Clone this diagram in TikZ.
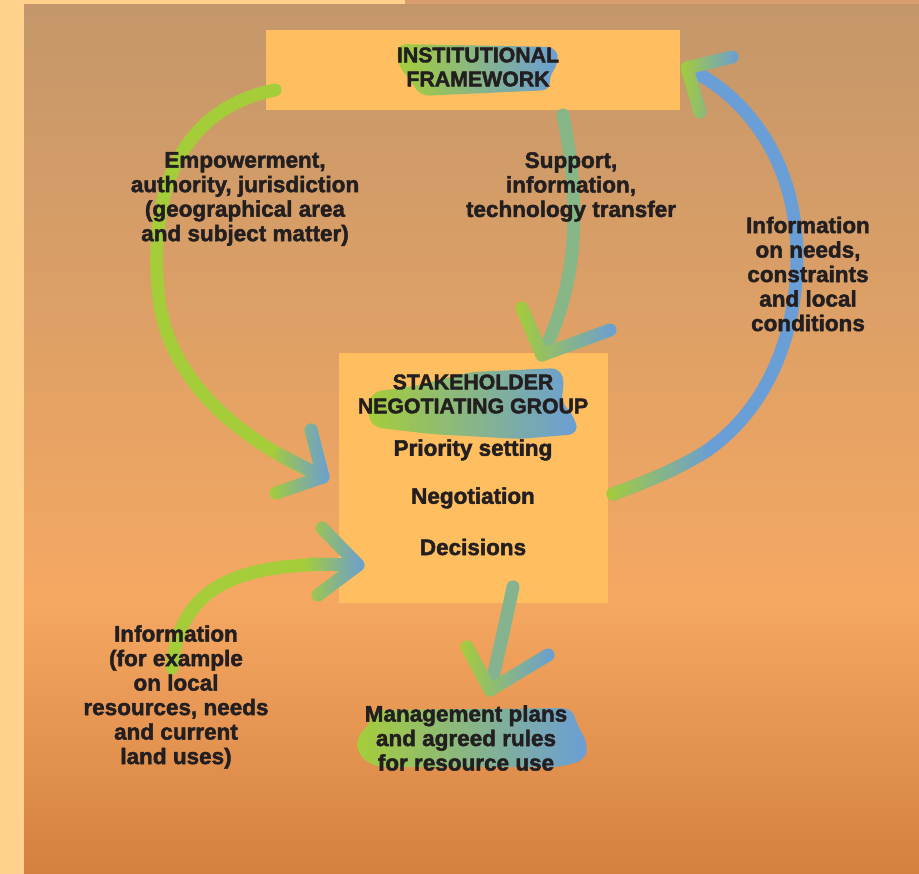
\documentclass[tikz,border=0pt]{standalone}
\usepackage{fontspec}
\setmainfont{Liberation Sans}[BoldFeatures={FakeBold=2}]
\usetikzlibrary{fadings}
\definecolor{paleyellow}{RGB}{255,209,140}
\definecolor{topstrip}{RGB}{217,157,110}
\definecolor{bgtop}{RGB}{196,151,106}
\definecolor{bgmid}{RGB}{245,168,98}
\definecolor{bgbot}{RGB}{212,128,63}
\definecolor{boxfill}{RGB}{255,190,96}
\definecolor{brgreen}{RGB}{165,205,57}
\definecolor{brblue}{RGB}{106,158,214}
\definecolor{inkdark}{RGB}{35,31,32}
\tikzfading[name=bluein, left color=transparent!100, right color=transparent!0]
\tikzfading[name=greenout, left color=transparent!0, right color=transparent!100]

\begin{document}
\begin{tikzpicture}[x=1pt, y=-1pt,
  every node/.style={font=\fontsize{22.5}{24.5}\selectfont\bfseries, text=inkdark, align=center},
  titletext/.style={font=\fontsize{21.3}{24}\selectfont\bfseries},
  brush/.style={line width=13pt, line cap=round, line join=round},
  panel/.style={fill=boxfill, draw=none, inner sep=0pt},
  smear/.style={left color=brgreen, right color=brblue, rounded corners=9pt}]
  % Background page
  \fill[paleyellow] (0,0) rectangle (919,874);
  \fill[topstrip] (405,0) rectangle (919,5);
  \shade[top color=bgtop, bottom color=bgmid] (24,5) rectangle (919,600);
  \shade[top color=bgmid, bottom color=bgbot] (24,600) rectangle (919,874);

  % Boxes
  \node[panel, minimum width=414pt, minimum height=80pt] (inst) at (473,70) {};
  \node[panel, minimum width=269pt, minimum height=250pt] (sng) at (473.5,478) {};

  % Brush smears behind titles
  \shade[smear] (397,44) -- (556,47) -- (559,63) -- (548,78) -- (551,90)
    -- (420,96) -- (412,82) -- (398,66) -- cycle;
  \shade[smear] (372,392) -- (420,385) -- (470,372) -- (560,368) -- (565,385)
    -- (560,400) -- (575,418) -- (578,434) -- (520,439) -- (430,434)
    -- (372,427) -- (367,410) -- cycle;
  \shade[smear] (372,710) -- (572,708) -- (576,722) -- (588,745) -- (585,760)
    -- (560,767) -- (375,767) -- (358,755) -- (357,735) -- (370,725) -- cycle;

  % Empowerment arc (left)
  \coordinate (empA) at (275,90);
  \coordinate (empB) at (158,290);
  \coordinate (empT) at (323,477);
  \draw[brush, brgreen] (empA) .. controls (175,110) and (150,200) .. (empB)
    .. controls (165,380) and (240,440) .. (empT);
  \draw[brush, brgreen] (311,430) -- (empT) -- (276,493) (280,455) -- (empT);
  \draw[brush, brblue, path fading=bluein] (311,430) -- (empT) -- (276,493) (280,455) -- (empT);

  % Support arrow (down into the group)
  \coordinate (supA) at (563,115);
  \coordinate (supT) at (542,355);
  \draw[brush, brgreen!50!brblue] (supA) .. controls (580,200) and (580,280) .. (supT);
  \draw[brush, brgreen] (522,308) -- (supT) -- (610,330);
  \draw[brush, brblue, path fading=bluein] (522,308) -- (supT) -- (610,330);

  % Needs arc (right, back up)
  \coordinate (needA) at (613,494);
  \coordinate (needB) at (705,452);
  \coordinate (needC) at (797,257);
  \coordinate (needT) at (687,68);
  \draw[brush, brblue] (needA) .. controls (645,482) and (672,472) .. (needB)
    .. controls (770,408) and (797,330) .. (needC)
    .. controls (797,160) and (745,95) .. (needT);
  \draw[brush, brgreen, path fading=greenout] (needA) .. controls (645,482) and (672,472) .. (needB);
  \draw[brush, brblue] (732,57) -- (needT) -- (700,112);
  \draw[brush, brgreen, path fading=greenout] (732,57) -- (needT) -- (700,112);

  % Local information arrow (bottom left)
  \coordinate (infA) at (172,668);
  \coordinate (infT) at (358,565);
  \draw[brush, brgreen] (infA) .. controls (180,590) and (230,560) .. (infT);
  \draw[brush, brgreen] (322,528) -- (infT) -- (318,595) (310,564) -- (infT);
  \draw[brush, brblue, path fading=bluein] (322,528) -- (infT) -- (318,595) (310,564) -- (infT);

  % Output arrow (down to plans)
  \coordinate (mgmA) at (513,587);
  \coordinate (mgmT) at (490,690);
  \draw[brush, brgreen!45!brblue] (mgmA) .. controls (505,625) and (497,660) .. (mgmT);
  \draw[brush, brgreen] (467,647) -- (mgmT) -- (548,655);
  \draw[brush, brblue, path fading=bluein] (467,647) -- (mgmT) -- (548,655);

  % Texts
  \node[titletext] (insttitle) at (478,67) {INSTITUTIONAL\\FRAMEWORK};
  \node[titletext] (sngtitle) at (473,394) {STAKEHOLDER\\NEGOTIATING GROUP};
  \node (priority) at (473,450) {Priority setting};
  \node (negot) at (473,498) {Negotiation};
  \node (decide) at (473,547) {Decisions};
  \node (plans) at (466,738) {Management plans\\and agreed rules\\for resource use};
  \node (emplabel) at (245,199) {Empowerment,\\authority, jurisdiction\\(geographical area\\and subject matter)};
  \node (suplabel) at (571,187) {Support,\\information,\\technology transfer};
  \node (needlabel) at (808,274) {Information\\on needs,\\constraints\\and local\\conditions};
  \node (inflabel) at (176,697) {Information\\(for example\\on local\\resources, needs\\and current\\land uses)};
\end{tikzpicture}
\end{document}
